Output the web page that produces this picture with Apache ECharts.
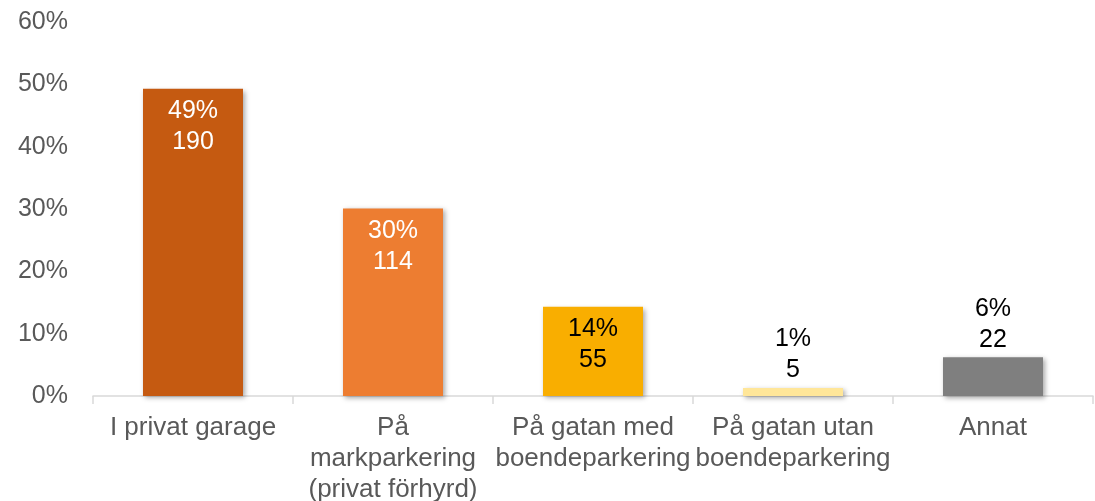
<!DOCTYPE html>
<html>
<head>
<meta charset="utf-8">
<script src="https://cdn.jsdelivr.net/npm/echarts@6/dist/echarts.min.js"></script>
<style>
	html, body { margin: 0; padding: 0; background: #fff; }
	#chart { width: 1095px; height: 501px; }
</style>
</head>
<body>
<div id="chart"></div>
<script>
	// kategorier och värden
	var categories = ['I privat garage', 'På\nmarkparkering\n(privat förhyrd)', 'På gatan med\nboendeparkering', 'På gatan utan\nboendeparkering', 'Annat'];
	var shareValues = [49.3, 30.1, 14.3, 1.3, 6.2];
	var shareLabels = ['49%', '30%', '14%', '1%', '6%'];
	var counts = [190, 114, 55, 5, 22];
	var barColors = ['#C55A11', '#ED7D31', '#F9AE00', '#FFE699', '#7F7F7F'];
	var labelInside = [true, true, true, false, false];
	var labelColors = ['#ffffff', '#ffffff', '#000000', '#000000', '#000000'];

	var myChart = echarts.init(document.getElementById('chart'));

	var barData = [];
	for (var i = 0; i < shareValues.length; i++) {
		barData.push({
			value: shareValues[i],
			itemStyle: { color: barColors[i] },
			label: {
				position: labelInside[i] ? 'insideTop' : 'top',
				distance: labelInside[i] ? 7 : 2,
				color: labelColors[i]
			}
		});
	}

	var option = {
		animation: false,
		textStyle: { fontFamily: 'Liberation Sans, Arial, sans-serif' },
		grid: { left: 93, right: 2, top: 22, bottom: 105, containLabel: false, outerBoundsMode: 'none' },
		xAxis: {
			type: 'category',
			data: categories,
			axisLine: { lineStyle: { color: '#D9D9D9', width: 1.5 } },
			axisTick: { show: true, length: 8, lineStyle: { color: '#D9D9D9', width: 1.5 } },
			axisLabel: { color: '#595959', fontSize: 26, lineHeight: 31, margin: 16, interval: 0 }
		},
		yAxis: {
			type: 'value',
			min: 0,
			max: 60,
			interval: 10,
			axisLine: { show: false },
			axisTick: { show: false },
			splitLine: { show: false },
			axisLabel: { color: '#595959', fontSize: 25, margin: 25, formatter: '{value}%' }
		},
		series: [{
			type: 'bar',
			barWidth: '50%',
			data: barData,
			itemStyle: {
				shadowBlur: 5,
				shadowOffsetX: 2,
				shadowOffsetY: 2,
				shadowColor: 'rgba(0,0,0,0.35)'
			},
			label: {
				show: true,
				fontSize: 25,
				lineHeight: 31,
				formatter: function (p) {
					return shareLabels[p.dataIndex] + '\n' + counts[p.dataIndex];
				}
			}
		}]
	};

	myChart.setOption(option);
</script>
</body>
</html>
